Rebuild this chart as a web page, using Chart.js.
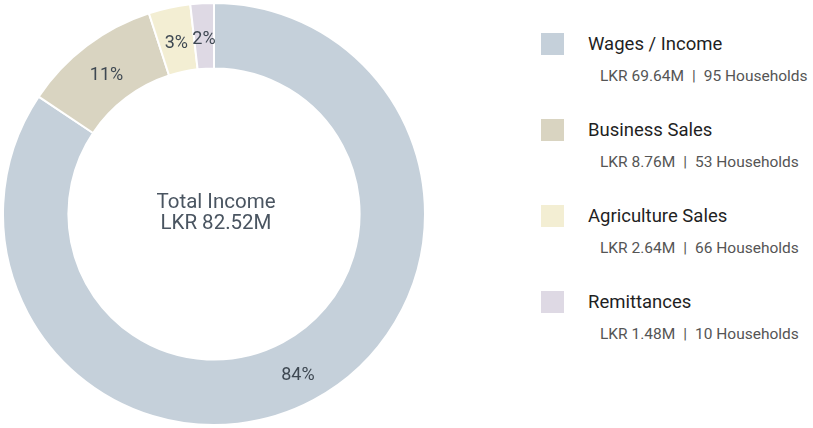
<!DOCTYPE html>
<html>
<head>
<meta charset="utf-8">
<script src="https://cdn.jsdelivr.net/npm/chart.js@4.4.1/dist/chart.umd.min.js"></script>
<style>
  body { margin: 0; background: #fff; font-family: Roboto, "Open Sans", sans-serif; }
  #wrap { position: relative; width: 813px; height: 428px; }
  #chartBox { position: absolute; left: 0; top: 0; width: 428px; height: 428px; }
  #legend { position: absolute; left: 541px; top: 0; }
  .item { position: absolute; left: 0; width: 272px; }
  .swatch { position: absolute; left: 0; width: 23px; height: 22px; }
  .name { position: absolute; left: 47px; font-size: 18.5px; color: #1f1f1f; white-space: nowrap; }
  .info { position: absolute; left: 59px; font-size: 15.5px; color: #555; white-space: nowrap; }
  .info .sep { margin: 0 8px; }
</style>
</head>
<body>
<div id="wrap">
  <div id="chartBox"><canvas id="incomeChart"></canvas></div>
  <div id="legend"></div>
</div>
<script>
const categories = ["Wages / Income", "Business Sales", "Agriculture Sales", "Remittances"];
const amounts = [69.64, 8.76, 2.64, 1.48]; // LKR millions
const households = [95, 53, 66, 10];
const colors = ["#c5d0da", "#d9d4c1", "#f3eed3", "#ded9e4"];

const total = amounts.reduce((a, b) => a + b, 0);

// legend on the right
const legend = document.getElementById("legend");
categories.forEach((cat, i) => {
  const top = 33 + i * 86;
  const div = document.createElement("div");
  div.className = "item";
  div.style.top = top + "px";
  div.innerHTML = `
    <div class="swatch" style="background:${colors[i]}"></div>
    <div class="name" style="top:0px">${cat}</div>
    <div class="info" style="top:34px">LKR ${amounts[i].toFixed(2)}M<span class="sep">|</span>${households[i]} Households</div>
  `;
  legend.appendChild(div);
});

// percentage labels on each slice + total text in the hole
const sliceLabels = {
  id: "sliceLabels",
  afterDatasetsDraw(chart) {
    const ctx = chart.ctx;
    const meta = chart.getDatasetMeta(0);
    ctx.save();
    ctx.textAlign = "center";
    ctx.textBaseline = "middle";
    ctx.fillStyle = "#3e4852";
    ctx.font = "18px Roboto";
    meta.data.forEach((arc, i) => {
      const pct = Math.round(amounts[i] / total * 100) + "%";
      const p = arc.getCenterPoint();
      ctx.fillText(pct, p.x, p.y + 4);
    });

    const cx = (chart.chartArea.left + chart.chartArea.right) / 2;
    const cy = (chart.chartArea.top + chart.chartArea.bottom) / 2;
    ctx.fillStyle = "#4a5561";
    ctx.font = "20.5px Roboto";
    ctx.fillText("Total Income", cx + 2, cy - 11);
    ctx.fillText("LKR " + total.toFixed(2) + "M", cx + 2, cy + 10);
    ctx.restore();
  }
};

new Chart(document.getElementById("incomeChart"), {
  type: "doughnut",
  data: {
    labels: categories,
    datasets: [{
      data: amounts,
      backgroundColor: colors,
      borderColor: "#ffffff",
      borderWidth: 2
    }]
  },
  options: {
    responsive: true,
    maintainAspectRatio: false,
    animation: false,
    cutout: "69%",
    layout: { padding: 2 },
    plugins: {
      legend: { display: false },
      tooltip: { enabled: false }
    }
  },
  plugins: [sliceLabels]
});
</script>
</body>
</html>
